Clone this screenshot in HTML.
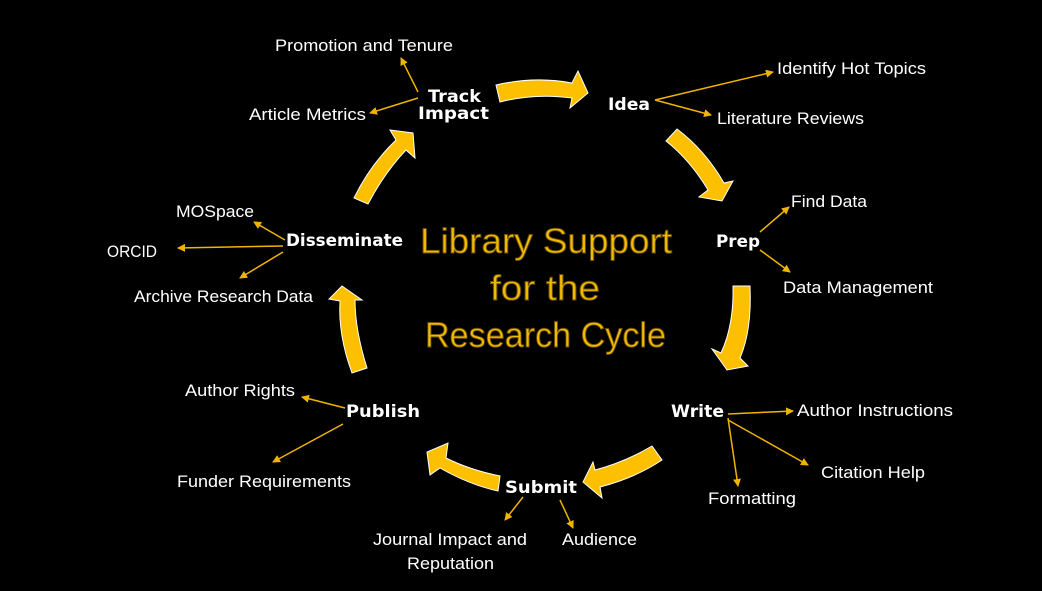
<!DOCTYPE html>
<html><head><meta charset="utf-8"><style>
html,body{margin:0;padding:0;background:#000;}
svg{display:block;}
.l{font-family:"Liberation Sans",sans-serif;font-size:17px;fill:#fff;}
.n{font-family:"DejaVu Sans","Liberation Sans",sans-serif;font-weight:bold;font-size:17px;fill:#fff;}
.t{font-family:"Liberation Sans",sans-serif;font-size:35px;fill:#f0bb00;stroke:#6a4d00;stroke-width:0.9;}
.c{stroke:#f0b400;stroke-width:1.5;fill:none;marker-end:url(#ah);}
.a{fill:#fcc000;stroke:#fff;stroke-width:1;}
</style></head><body>
<svg width="1042" height="591" viewBox="0 0 1042 591" xmlns="http://www.w3.org/2000/svg">
<defs><marker id="ah" markerWidth="8" markerHeight="8" refX="7" refY="4" orient="auto" markerUnits="userSpaceOnUse"><path d="M0,0 L8,4 L0,8 Z" fill="#f0b400"/></marker></defs>
<rect width="1042" height="591" fill="#000"/>
<path class="a" d="M496,85 Q535,76 572,83 L578,71 L588,93 L570,108 L572,98 Q535,93 500,102 Z"/>
<path class="a" d="M677,129 Q705,150 724,183 L733,181 L722,201 L699,197 L708,190 Q690,160 666,141 Z"/>
<path class="a" d="M733,286 L750,286 Q752,330 740,358 L748,366 L727,370 L712,349 L721,353 Q734,325 733,286 Z"/>
<path class="a" d="M652,446 Q625,462 595,470 L593,462 L583,482 L602,498 L600,487 Q635,478 662,460 Z"/>
<path class="a" d="M500,476 Q470,470 446,458 L448,443 L427,452 L430,475 L440,468 Q470,485 498,491 Z"/>
<path class="a" d="M367,368 Q355,330 355,300 L362,300 L342,286 L329,299 L340,301 Q338,335 352,373 Z"/>
<path class="a" d="M354,198 Q370,165 396,140 L390,130 L413,133 L415,158 L406,150 Q385,172 368,204 Z"/>
<line class="c" x1="418" y1="92" x2="401" y2="58"/>
<line class="c" x1="418" y1="98" x2="370" y2="113"/>
<line class="c" x1="655" y1="100" x2="773" y2="72"/>
<line class="c" x1="655" y1="100" x2="711" y2="115"/>
<line class="c" x1="760" y1="232" x2="789" y2="207"/>
<line class="c" x1="760" y1="250" x2="790" y2="272"/>
<line class="c" x1="285" y1="240" x2="254" y2="222"/>
<line class="c" x1="283" y1="246" x2="178" y2="248"/>
<line class="c" x1="283" y1="252" x2="240" y2="278"/>
<line class="c" x1="345" y1="408" x2="302" y2="397"/>
<line class="c" x1="343" y1="424" x2="273" y2="462"/>
<line class="c" x1="728" y1="414" x2="793" y2="411"/>
<line class="c" x1="728" y1="418" x2="738" y2="486"/>
<line class="c" x1="728" y1="420" x2="808" y2="465"/>
<line class="c" x1="523" y1="497" x2="505" y2="520"/>
<line class="c" x1="560" y1="500" x2="573" y2="528"/>
<text class="t" x="420" y="253" textLength="252" lengthAdjust="spacingAndGlyphs">Library Support</text>
<text class="t" x="490" y="300" textLength="110" lengthAdjust="spacingAndGlyphs">for the</text>
<text class="t" x="425" y="347" textLength="241" lengthAdjust="spacingAndGlyphs">Research Cycle</text>
<text class="n" x="428" y="102" textLength="53" lengthAdjust="spacingAndGlyphs">Track</text>
<text class="n" x="418" y="119" textLength="71" lengthAdjust="spacingAndGlyphs">Impact</text>
<text class="n" x="608" y="110" textLength="42" lengthAdjust="spacingAndGlyphs">Idea</text>
<text class="n" x="716" y="247" textLength="44" lengthAdjust="spacingAndGlyphs">Prep</text>
<text class="n" x="286" y="246" textLength="117" lengthAdjust="spacingAndGlyphs">Disseminate</text>
<text class="n" x="346" y="417" textLength="74" lengthAdjust="spacingAndGlyphs">Publish</text>
<text class="n" x="671" y="417" textLength="53" lengthAdjust="spacingAndGlyphs">Write</text>
<text class="n" x="505" y="493" textLength="72" lengthAdjust="spacingAndGlyphs">Submit</text>
<text class="l" x="275" y="51" textLength="178" lengthAdjust="spacingAndGlyphs">Promotion and Tenure</text>
<text class="l" x="249" y="120" textLength="117" lengthAdjust="spacingAndGlyphs">Article Metrics</text>
<text class="l" x="777" y="74" textLength="149" lengthAdjust="spacingAndGlyphs">Identify Hot Topics</text>
<text class="l" x="717" y="124" textLength="147" lengthAdjust="spacingAndGlyphs">Literature Reviews</text>
<text class="l" x="791" y="207" textLength="76" lengthAdjust="spacingAndGlyphs">Find Data</text>
<text class="l" x="783" y="293" textLength="150" lengthAdjust="spacingAndGlyphs">Data Management</text>
<text class="l" x="176" y="217" textLength="78" lengthAdjust="spacingAndGlyphs">MOSpace</text>
<text class="l" x="107" y="257" textLength="50" lengthAdjust="spacingAndGlyphs">ORCID</text>
<text class="l" x="134" y="302" textLength="179" lengthAdjust="spacingAndGlyphs">Archive Research Data</text>
<text class="l" x="185" y="396" textLength="110" lengthAdjust="spacingAndGlyphs">Author Rights</text>
<text class="l" x="177" y="487" textLength="174" lengthAdjust="spacingAndGlyphs">Funder Requirements</text>
<text class="l" x="797" y="416" textLength="156" lengthAdjust="spacingAndGlyphs">Author Instructions</text>
<text class="l" x="821" y="478" textLength="104" lengthAdjust="spacingAndGlyphs">Citation Help</text>
<text class="l" x="708" y="504" textLength="88" lengthAdjust="spacingAndGlyphs">Formatting</text>
<text class="l" x="373" y="545" textLength="154" lengthAdjust="spacingAndGlyphs">Journal Impact and</text>
<text class="l" x="407" y="569" textLength="87" lengthAdjust="spacingAndGlyphs">Reputation</text>
<text class="l" x="562" y="545" textLength="75" lengthAdjust="spacingAndGlyphs">Audience</text>
</svg>
</body></html>
